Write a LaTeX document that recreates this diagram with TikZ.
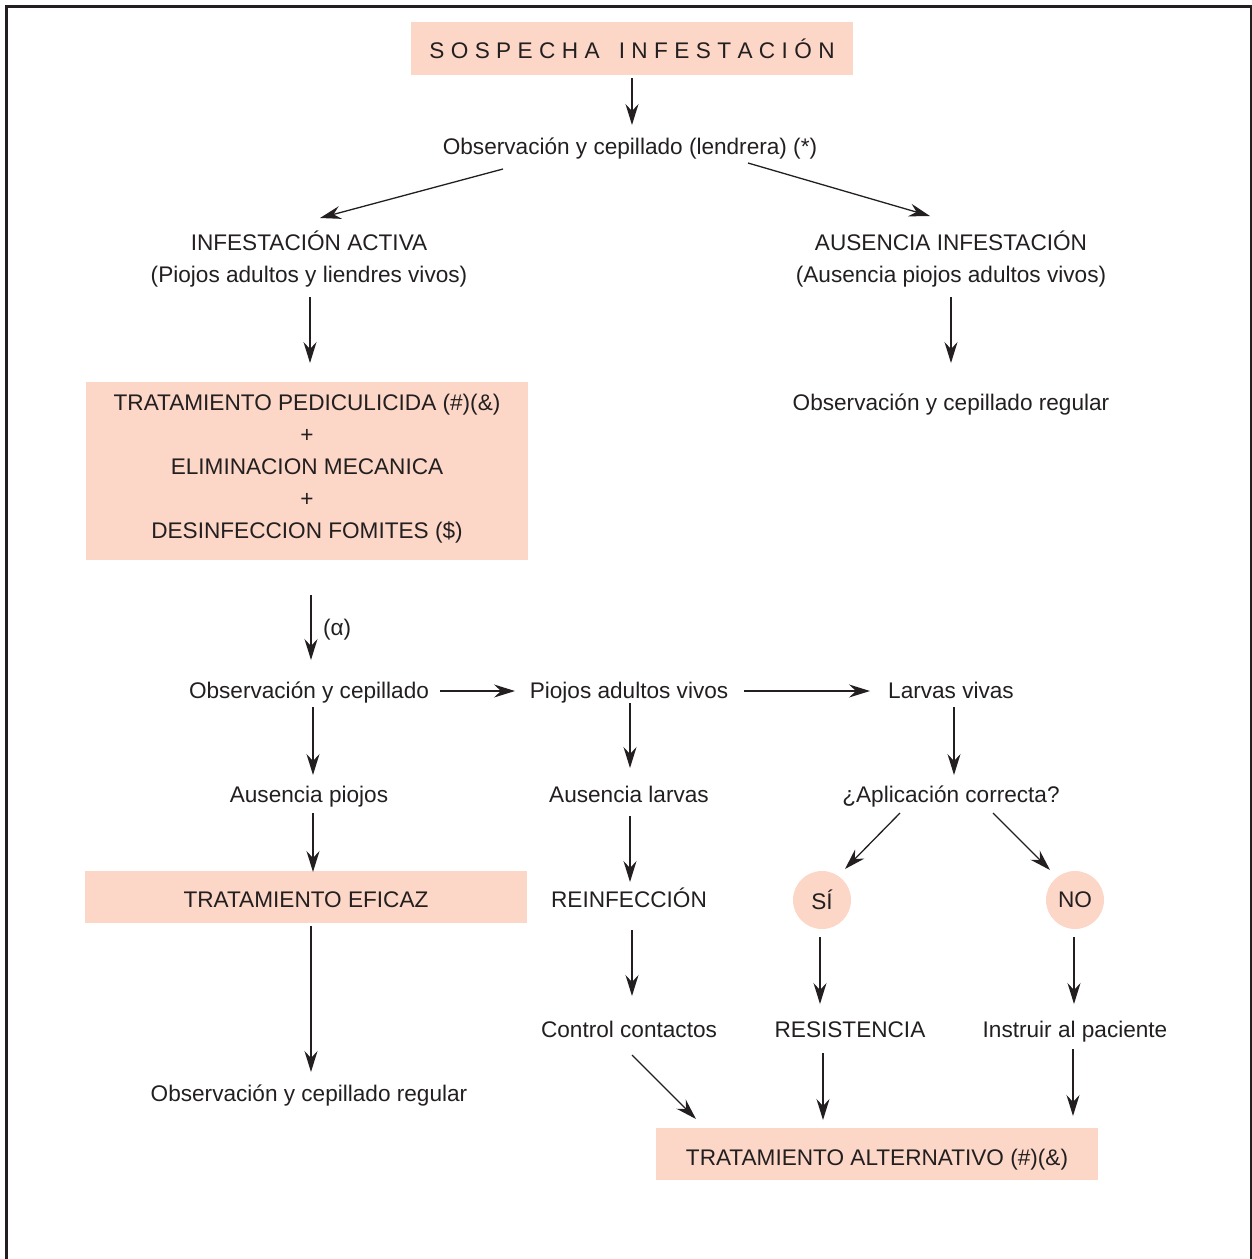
\documentclass[tikz,border=0pt]{standalone}
\usepackage{fontspec}
\setmainfont{Liberation Sans}
\usetikzlibrary{arrows.meta,calc}
\definecolor{peach}{RGB}{252,214,198}
\definecolor{ink}{RGB}{35,31,32}
\newcommand{\lsp}{\kern6.4pt}
\begin{document}
\begin{tikzpicture}[x=1pt,y=-1pt,
  every node/.style={inner sep=0pt,outer sep=0pt,text=ink,font=\fontsize{22.6pt}{32pt}\selectfont},
  txt/.style={anchor=base},
  pbox/.style={fill=peach,minimum width=442pt,align=center},
  pcirc/.style={circle,fill=peach,minimum size=58pt},
  arr/.style={draw=ink,line width=1.3pt,-{Stealth[length=21pt,width=13pt,inset=7pt]}}]
\useasboundingbox (0,0) rectangle (1252,1259);
% frame
\draw[ink,line width=3pt] (6.5,1260) -- (6.5,5.5);
\draw[ink,line width=2.5pt] (5,6.5) -- (1252,6.5);
\draw[ink,line width=1.5pt] (1251,6.5) -- (1251,1260);
% nodes
\node[pbox,minimum height=53pt,text height=19pt,text depth=0pt] (sos) at (632,48.5)
  {S\lsp O\lsp S\lsp P\lsp E\lsp C\lsp H\lsp A\lsp\ \lsp I\lsp N\lsp F\lsp E\lsp S\lsp T\lsp A\lsp C\lsp I\lsp Ó\lsp N};
\node[txt] (obs1) at (630,154) {Observación y cepillado (lendrera) (*)};
\node[txt] (inf) at (309,250) {INFESTACIÓN ACTIVA};
\node[txt] (infb) at (309,282) {(Piojos adultos y liendres vivos)};
\node[txt] (aus) at (951,250) {AUSENCIA INFESTACIÓN};
\node[txt] (ausb) at (951,282) {(Ausencia piojos adultos vivos)};
\node[txt] (ocr1) at (951,410) {Observación y cepillado regular};
\node[pbox,minimum height=178pt,text height=148pt,text depth=14pt] (ped) at (307,471)
  {TRATAMIENTO PEDICULICIDA (\#)(\&)\\+\\ELIMINACION MECANICA\\+\\DESINFECCION FOMITES (\$)};
\node[txt,anchor=base west] (alpha) at (323,635) {(α)};
\node[txt] (obs2) at (309,698) {Observación y cepillado};
\node[txt] (pav) at (629,698) {Piojos adultos vivos};
\node[txt] (lv) at (951,698) {Larvas vivas};
\node[txt] (ap) at (309,802) {Ausencia piojos};
\node[txt] (al) at (629,802) {Ausencia larvas};
\node[txt] (apc) at (951,802) {¿Aplicación correcta?};
\node[pbox,minimum height=52pt,text height=20pt,text depth=0pt] (efi) at (306,897) {TRATAMIENTO EFICAZ};
\node[txt] (reinf) at (629,907) {REINFECCIÓN};
\node[pcirc] (si) at (822,900) {SÍ};
\node[pcirc] (no) at (1075,900) {NO};
\node[txt] (cc) at (629,1037) {Control contactos};
\node[txt] (res) at (850,1037) {RESISTENCIA};
\node[txt] (ins) at (1075,1037) {Instruir al paciente};
\node[txt] (ocr2) at (309,1101) {Observación y cepillado regular};
\node[pbox,minimum height=52pt,text height=22pt,text depth=0pt] (alt) at (877,1154) {TRATAMIENTO ALTERNATIVO (\#)(\&)};
% connectors
\draw[arr] ($(sos.south)+(0,3)$) -- ($(obs1.base)+(2,-29)$);
\draw[arr] ($(obs1.base)+(-127,15)$) -- ($(inf.base)+(11,-32)$);
\draw[arr] ($(obs1.base)+(118,9)$) -- ($(aus.base)+(-21,-34)$);
\draw[arr] ($(infb.base)+(1,15)$) -- ($(ped.north)+(3,-19)$);
\draw[arr] ($(ausb.base)+(0,15)$) -- ($(ocr1.base)+(0,-47)$);
\draw[arr] ($(ped.south)+(4,35)$) -- ($(obs2.base)+(2,-38)$);
\draw[arr] ($(obs2.base)+(131,-7)$) -- ($(pav.base)+(-114,-7)$);
\draw[arr] ($(pav.base)+(115,-7)$) -- ($(lv.base)+(-81,-7)$);
\draw[arr] ($(obs2.base)+(4,9)$) -- ($(ap.base)+(4,-27)$);
\draw[arr] ($(pav.base)+(1,5)$) -- ($(al.base)+(1,-34)$);
\draw[arr] ($(lv.base)+(3,9)$) -- ($(apc.base)+(3,-27)$);
\draw[arr] ($(ap.base)+(4,11)$) -- ($(efi.north)+(7,1)$);
\draw[arr] ($(al.base)+(1,14)$) -- ($(reinf.base)+(1,-25)$);
\draw[arr] ($(apc.base)+(-51,11)$) -- ($(si.center)+(23,-31)$);
\draw[arr] ($(apc.base)+(42,11)$) -- ($(no.center)+(-25,-30)$);
\draw[arr] ($(reinf.base)+(3,23)$) -- ($(cc.base)+(3,-41)$);
\draw[arr] ($(si.center)+(-2,37)$) -- ($(res.base)+(-30,-33)$);
\draw[arr] ($(no.center)+(-1,37)$) -- ($(ins.base)+(-1,-33)$);
\draw[arr] ($(efi.south)+(5,3)$) -- ($(ocr2.base)+(2,-29)$);
\draw[arr] ($(cc.base)+(3,18)$) -- ($(alt.center)+(-181,-35)$);
\draw[arr] ($(res.base)+(-27,16)$) -- ($(alt.center)+(-54,-34)$);
\draw[arr] ($(ins.base)+(-2,12)$) -- ($(alt.center)+(196,-38)$);
\end{tikzpicture}
\end{document}
